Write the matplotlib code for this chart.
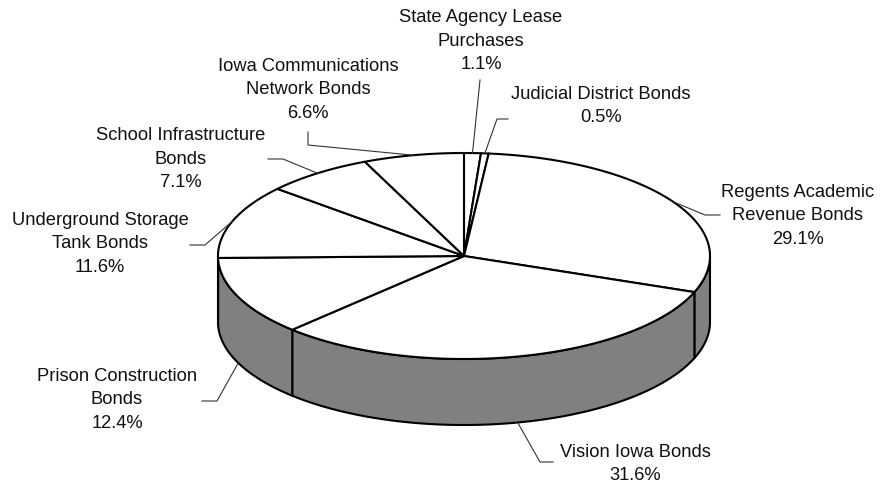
import matplotlib.pyplot as plt
import numpy as np
from matplotlib.patches import Polygon

# slices in clockwise order starting at 12 o'clock
names = ['State Agency Lease\nPurchases', 'Judicial District Bonds',
         'Regents Academic\nRevenue Bonds', 'Vision Iowa Bonds',
         'Prison Construction\nBonds', 'Underground Storage\nTank Bonds',
         'School Infrastructure\nBonds', 'Iowa Communications\nNetwork Bonds']
shares = [1.1, 0.5, 29.1, 31.6, 12.4, 11.6, 7.1, 6.6]

# label layout (pixels): text centre, then leader end / elbow
text_pos = [(481, 41), (601, 106), (798, 216), (635, 464),
            (117, 400), (100, 244), (181, 159), (308, 90)]
leader_end = [(480, 80), (508, 119), (720, 215), (553, 462),
              (202, 401), (190, 245), (268, 159), (308, 132)]
leader_elbow = [(480, 80), (497, 119), (705, 215), (540, 462),
                (217, 401), (205, 245), (283, 159), (308, 145)]

cx, cy = 464, 256
rx, ry = 246, 103
depth = 66


def pt(theta, dz=0):
    t = np.radians(theta)
    return cx + rx * np.sin(t), cy - ry * np.cos(t) + dz


fig = plt.figure(figsize=(8.81, 4.87), dpi=100)
ax = fig.add_axes([0, 0, 1, 1])
ax.set_xlim(0, 881)
ax.set_ylim(487, 0)
ax.axis('off')

bounds = np.concatenate([[0], np.cumsum(shares)]) / 100.0 * 360

# side walls (front half only)
for a, b in zip(bounds[:-1], bounds[1:]):
    lo, hi = max(a, 90), min(b, 270)
    if hi <= lo:
        continue
    th = np.linspace(lo, hi, 80)
    top = [pt(t) for t in th]
    bot = [pt(t, depth) for t in th[::-1]]
    ax.add_patch(Polygon(top + bot, closed=True, facecolor='#808080',
                         edgecolor='black', lw=1.5, joinstyle='round'))

# top face
for a, b in zip(bounds[:-1], bounds[1:]):
    th = np.linspace(a, b, max(int(b - a) * 2, 4))
    verts = [(cx, cy)] + [pt(t) for t in th]
    ax.add_patch(Polygon(verts, closed=True, facecolor='white',
                         edgecolor='black', lw=1.5, joinstyle='round'))

# labels and leader lines
for i, (nm, v) in enumerate(zip(names, shares)):
    mid = (bounds[i] + bounds[i + 1]) / 2
    front = 90 < mid < 270 and np.cos(np.radians(mid)) < -0.3
    ax_pt = pt(mid, depth if front else 0)
    xs = [leader_end[i][0], leader_elbow[i][0], ax_pt[0]]
    ys = [leader_end[i][1], leader_elbow[i][1], ax_pt[1]]
    ax.plot(xs, ys, color='#333333', lw=0.8)
    ax.text(text_pos[i][0], text_pos[i][1], f'{nm}\n{v:.1f}%',
            ha='center', va='center', fontsize=13.2, family='Liberation Sans',
            color='#111111', linespacing=1.5)

fig.savefig('out.png', dpi=100)
